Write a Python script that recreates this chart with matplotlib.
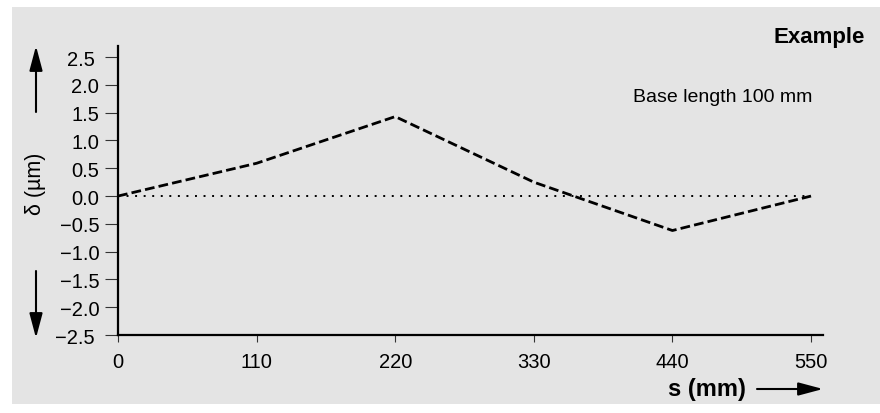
import matplotlib.pyplot as plt
from matplotlib.patches import Rectangle

plt.rcParams['font.family'] = ['Liberation Sans', 'DejaVu Sans']

## donnees
s_mm = [0, 110, 220, 330, 440, 550]
delta_um = [0.0, 0.59, 1.43, 0.25, -0.62, 0.0]
yticks = [2.5, 2.0, 1.5, 1.0, 0.5, 0.0, -0.5, -1.0, -1.5, -2.0, -2.5]
xticks = [0, 110, 220, 330, 440, 550]

fig = plt.figure(figsize=(8.8, 4.14), dpi=100)
fig.patch.set_facecolor('white')
# fond gris
fig.patches.append(Rectangle((12/880, 1-405/414), 868/880, 397/414,
                             transform=fig.transFigure, facecolor='#e4e4e4',
                             edgecolor='none', zorder=-5))

ax = fig.add_axes([118/880, 1-336/414, 705/880, 289/414])
ax.set_facecolor('none')
ax.set_zorder(2)

ax.plot([0, 550], [0, 0], color='black', linestyle=(0, (1, 3.4)), linewidth=1.4)
ax.plot(s_mm, delta_um, color='black', linestyle=(0, (3.5, 1.5)), linewidth=2)

ax.set_xlim(0, 559.5)
ax.set_ylim(-2.5, 2.7)
ax.set_xticks(xticks)
ax.set_yticks(yticks)
ax.set_yticklabels([f'{v:.1f}'.replace('-', '\u2212') for v in yticks])
ax.tick_params(labelsize=14.5, width=0.8, color='#333333')
ax.tick_params(axis='y', length=9.5, pad=4)
ax.tick_params(axis='x', length=5, pad=7.5)
# les graduations extremes sont plus courtes
yt = ax.yaxis.get_major_ticks()
yt[0].tick1line.set_markersize(6)
yt[-1].tick1line.set_markersize(6)
yt[0].set_pad(7.5)
yt[-1].set_pad(7.5)

for side in ['top', 'right']:
    ax.spines[side].set_visible(False)
for side in ['left', 'bottom']:
    ax.spines[side].set_linewidth(1.6)

# textes
fig.text(865/880, 1-37/414, 'Example', ha='right', va='center',
         fontsize=16, fontweight='bold')
fig.text(812/880, 1-97/414, 'Base length 100 mm', ha='right', va='center',
         fontsize=14)
fig.text(746/880, 1-390/414, 's (mm)', ha='right', va='center',
         fontsize=17, fontweight='bold')
fig.text(35/880, 1-184/414, '\u03b4 (\u00b5m)', ha='center', va='center',
         fontsize=15.5, rotation=90)

# fleches
arr = dict(arrowstyle='-|>,head_length=1.5,head_width=0.4', color='black',
           lw=1.5, shrinkA=0, shrinkB=0, mutation_scale=10)
ax.annotate('', xy=(823/880, 1-390/414), xytext=(757/880, 1-390/414),
            xycoords='figure fraction', arrowprops=arr)
ax.annotate('', xy=(36/880, 1-47/414), xytext=(36/880, 1-113/414),
            xycoords='figure fraction', arrowprops=arr)
ax.annotate('', xy=(36/880, 1-339/414), xytext=(36/880, 1-272/414),
            xycoords='figure fraction', arrowprops=arr)

fig.savefig('out.png', dpi=100, facecolor=fig.get_facecolor())
